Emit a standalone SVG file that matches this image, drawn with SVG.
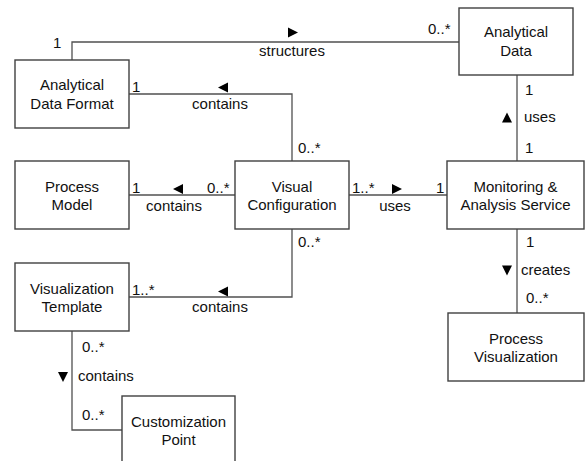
<svg xmlns="http://www.w3.org/2000/svg" width="585" height="461" viewBox="0 0 585 461">
<style>
.box{fill:#fff;stroke:#404040;stroke-width:1.4}
.ln{fill:none;stroke:#505050;stroke-width:1.3}
.ar{fill:#000}
text{font-family:"Liberation Sans",Arial,sans-serif;font-size:15px;fill:#111}
.c{text-anchor:middle}
</style>
<rect width="585" height="461" fill="#fff"/>
<g id="connectors">
<path class="ln" d="M72,60 V42 H459"/>
<path class="ln" d="M129,94 H292 V161"/>
<path class="ln" d="M129,195 H235"/>
<path class="ln" d="M292,229 V297 H129"/>
<path class="ln" d="M349,195 H447"/>
<path class="ln" d="M517,75 V161"/>
<path class="ln" d="M517,229 V313"/>
<path class="ln" d="M72,331 V430 H122"/>
<polygon class="ar" points="288,27.5 298,32.5 288,37.5"/>
<polygon class="ar" points="228,82.5 218,87.5 228,92.5"/>
<polygon class="ar" points="183,184 173,189 183,194"/>
<polygon class="ar" points="228,286.5 218,291.5 228,296.5"/>
<polygon class="ar" points="392,184 402,189 392,194"/>
<polygon class="ar" points="502,122.5 507,112.5 512,122.5"/>
<polygon class="ar" points="502,265.5 512,265.5 507,275.5"/>
<polygon class="ar" points="58,372 68,372 63,382"/>
<text class="c" x="292" y="56">structures</text>
<text x="53" y="48">1</text>
<text x="428" y="34">0..*</text>
<text class="c" x="220" y="109">contains</text>
<text x="132" y="92">1</text>
<text x="298" y="153">0..*</text>
<text class="c" x="174" y="211">contains</text>
<text x="132" y="193">1</text>
<text x="207" y="193">0..*</text>
<text class="c" x="395" y="211">uses</text>
<text x="352" y="193">1..*</text>
<text x="436" y="193">1</text>
<text class="c" x="220" y="312">contains</text>
<text x="298" y="247">0..*</text>
<text x="132" y="295">1..*</text>
<text x="524" y="122">uses</text>
<text x="525" y="95">1</text>
<text x="525" y="153">1</text>
<text x="521" y="275">creates</text>
<text x="526" y="247">1</text>
<text x="526" y="303">0..*</text>
<text x="78" y="381">contains</text>
<text x="82" y="352">0..*</text>
<text x="82" y="420">0..*</text>
</g>
<g id="analytical-data-format"><rect class="box" x="15" y="60" width="114" height="68"/><text class="c" x="72" y="90">Analytical</text><text class="c" x="72" y="109">Data Format</text></g>
<g id="analytical-data"><rect class="box" x="459" y="8" width="114" height="67"/><text class="c" x="516" y="37">Analytical</text><text class="c" x="516" y="56">Data</text></g>
<g id="process-model"><rect class="box" x="15" y="161" width="114" height="68"/><text class="c" x="72" y="192">Process</text><text class="c" x="72" y="210">Model</text></g>
<g id="visual-configuration"><rect class="box" x="235" y="161" width="114" height="68"/><text class="c" x="292" y="192">Visual</text><text class="c" x="292" y="210">Configuration</text></g>
<g id="monitoring-analysis-service"><rect class="box" x="447" y="161" width="137" height="68"/><text class="c" x="515.5" y="192">Monitoring &amp;</text><text class="c" x="515.5" y="210">Analysis Service</text></g>
<g id="visualization-template"><rect class="box" x="15" y="263" width="114" height="68"/><text class="c" x="72" y="294">Visualization</text><text class="c" x="72" y="312">Template</text></g>
<g id="process-visualization"><rect class="box" x="448" y="313" width="136" height="68"/><text class="c" x="516" y="344">Process</text><text class="c" x="516" y="362">Visualization</text></g>
<g id="customization-point"><rect class="box" x="122" y="396" width="113" height="80"/><text class="c" x="178.5" y="427">Customization</text><text class="c" x="178.5" y="445">Point</text></g>
</svg>
